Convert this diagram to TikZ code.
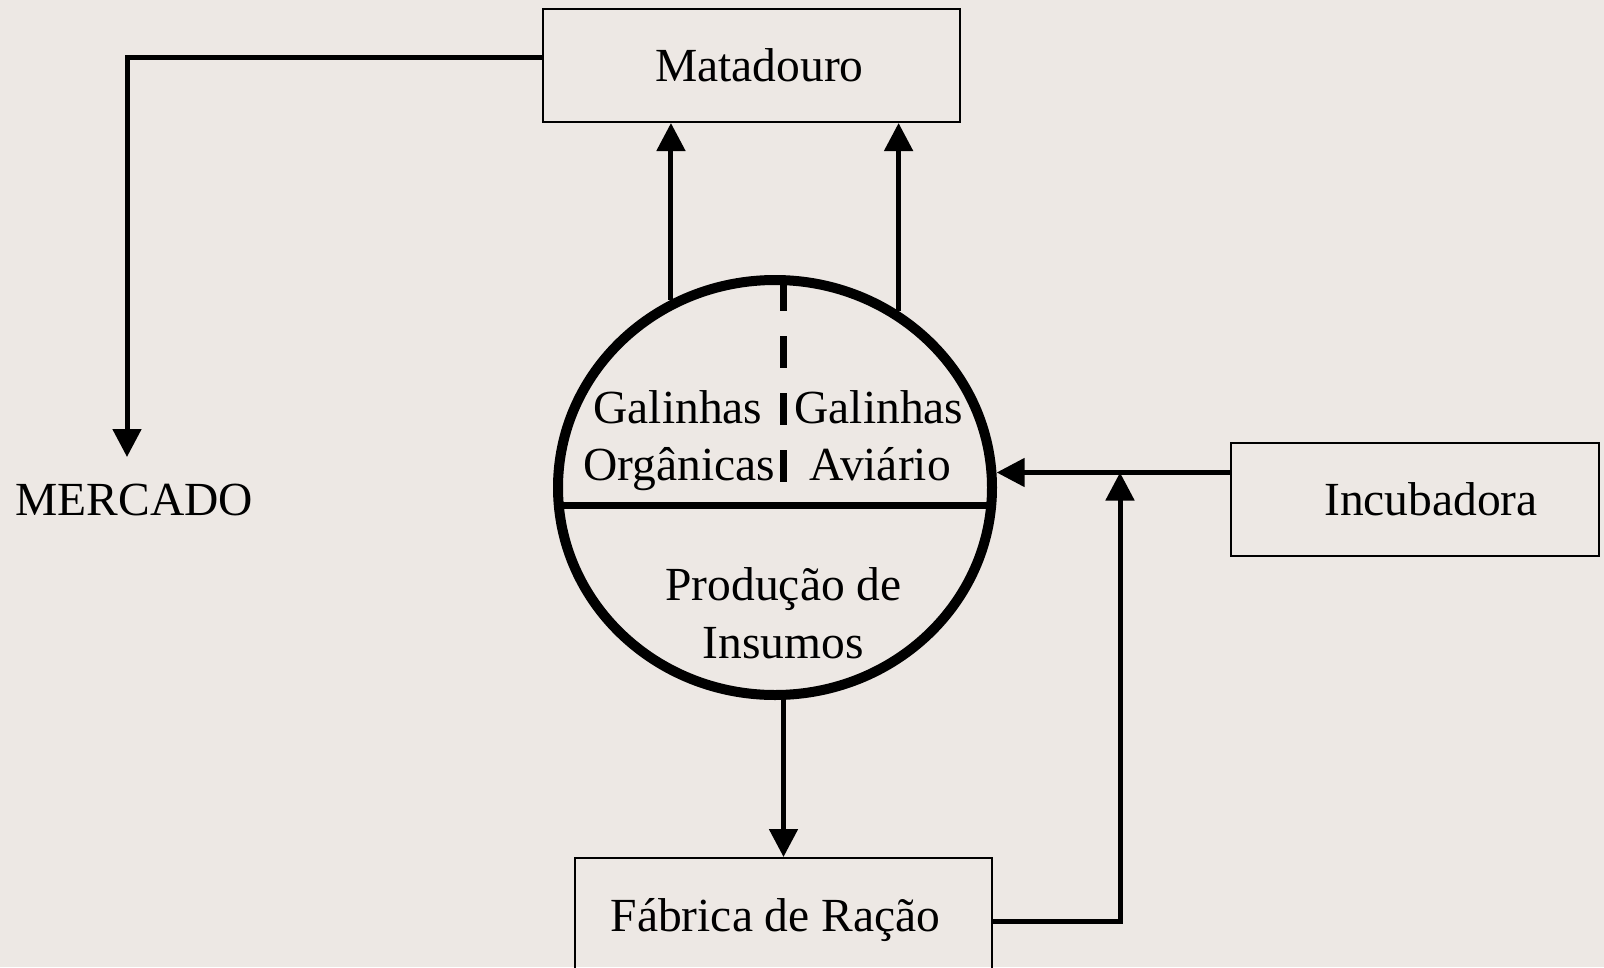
\documentclass[tikz,border=0pt]{standalone}
\usepackage{fontspec}
\setmainfont{Liberation Serif}
\usetikzlibrary{arrows.meta,shapes.geometric}
\definecolor{bgc}{HTML}{EDE8E4}
\begin{document}
\begin{tikzpicture}[x=1pt,y=-1pt,
  every node/.style={font=\fontsize{47.5}{57}\selectfont},
  boxnode/.style={draw,line width=2pt,inner sep=0pt,minimum height=113pt,text height=32pt,text depth=0pt},
  txt/.style={anchor=base,inner sep=0pt},
  conn/.style={line width=5pt,-{Triangle[width=28pt,length=28pt]}},
  dashline/.style={line width=7pt,dash pattern=on 32pt off 25pt}]
\fill[bgc] (0,0) rectangle (1604,967);
\useasboundingbox (0,0) rectangle (1604,967);
% boxes
\node[boxnode,minimum width=417pt] (mat) at (751.5,65.5) {\hspace*{16pt}Matadouro};
\node[boxnode,minimum width=368pt] (inc) at (1415,499.5) {\hspace*{32pt}Incubadora};
\node[boxnode,minimum width=417pt,minimum height=114pt] (fab) at (783.5,915) {Fábrica de Ração\hspace*{16pt}};
\node[txt] (merc) at (134.5,515) {MERCADO};
\coordinate (mk) at (127,457);
% circle
\node[ellipse,inner sep=0pt,minimum width=434pt,minimum height=415pt,line width=10pt] (circ) at (775,487.5) {};
\draw[dashline] ([yshift=-4pt]circ.north -| fab.north) -- ++(0,203);
\draw[line width=7pt,shorten <=8pt,shorten >=8pt] ([yshift=-17.5pt]circ.west) -- ([yshift=-17.5pt]circ.east);
\draw[line width=10pt] (circ.center) ellipse [x radius=217pt,y radius=207.5pt];
\node[txt] (g1) at (678,423) {Galinhas};
\node[txt] (o1) at (679,480) {Orgânicas};
\node[txt] (g2) at (879,423) {Galinhas};
\node[txt] (a2) at (880,480) {Aviário};
\node[txt] (p1) at (783.5,600) {Produção de};
\node[txt] (i1) at (783,658) {Insumos};
% connectors
\draw[conn] ([yshift=8.5pt]mat.west) -| (mk);
\draw[conn] (circ.119.75) -- (circ.119.75 |- mat.south);
\draw[conn] (circ.55.2) -- (circ.55.2 |- mat.south);
\draw[conn] (fab.north |- circ.south) -- (fab.north);
\path ([yshift=27pt]inc.west) coordinate (iw);
\coordinate (jn) at (1120,472.5);
\draw[conn] (iw) -- (iw -| circ.3.6);
\draw[conn] ([yshift=-6pt]fab.east) -| (jn);
\end{tikzpicture}
\end{document}
